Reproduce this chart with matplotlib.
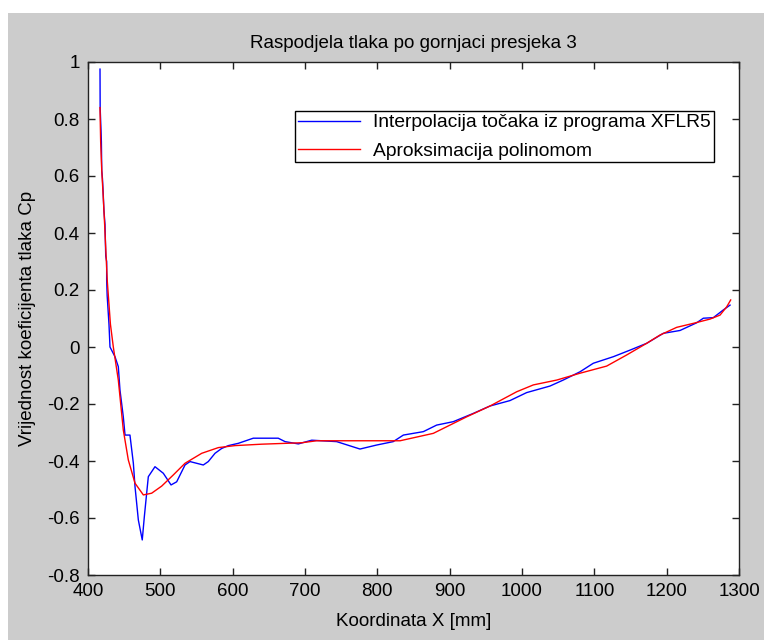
import matplotlib
matplotlib.use("Agg")
import matplotlib.pyplot as plt
from matplotlib.patches import Rectangle

blue_x = [416.6, 416.8, 418.0, 418.5, 419.0, 420.0, 421.0, 422.0, 423.5, 424.5, 425.8, 425.8,
          426.5, 429.0, 430.4, 437.3, 441.9, 444.2, 448.8, 451.2, 458.0, 462.7, 465.0, 469.6,
          475.0, 477.9, 481.1, 483.4, 492.6, 504.1, 514.8, 522.6, 534.1, 541.0, 559.4, 566.3,
          575.6, 584.8, 594.0, 607.8, 628.5, 663.0, 672.4, 690.8, 709.3, 743.8, 776.0, 799.0,
          822.0, 836.0, 863.6, 882.0, 905.0, 932.7, 955.8, 983.4, 1006.4, 1038.7, 1057.0,
          1080.2, 1098.6, 1126.3, 1149.3, 1172.4, 1195.4, 1218.5, 1241.5, 1250.7, 1264.5,
          1278.3, 1287.6]
blue_y = [0.975, 0.84, 0.76, 0.72, 0.62, 0.59, 0.54, 0.48, 0.43, 0.32, 0.30, 0.235,
          0.18, 0.08, 0.00, -0.034, -0.069, -0.151, -0.245, -0.309, -0.309, -0.408, -0.49, -0.607,
          -0.677, -0.595, -0.513, -0.455, -0.42, -0.443, -0.484, -0.473, -0.414, -0.402, -0.414, -0.402,
          -0.373, -0.356, -0.346, -0.338, -0.320, -0.320, -0.332, -0.340, -0.327, -0.332, -0.358, -0.344,
          -0.332, -0.309, -0.297, -0.274, -0.262, -0.233, -0.207, -0.188, -0.160, -0.137, -0.116,
          -0.087, -0.057, -0.034, -0.011, 0.013, 0.048, 0.058, 0.085, 0.101, 0.103,
          0.130, 0.147]

red_x = [416.6, 417.5, 419.0, 421.0, 423.0, 425.0, 426.7, 429.0, 431.0, 435.0, 441.9, 448.8,
         455.7, 465.0, 476.5, 488.0, 501.9, 517.9, 534.1, 557.2, 580.2, 603.2, 640.0, 695.4,
         716.2, 831.4, 877.4, 923.5, 955.8, 992.7, 1015.7, 1048.0, 1080.2, 1117.0, 1144.7,
         1172.4, 1190.8, 1213.9, 1236.9, 1260.0, 1273.8, 1283.0, 1288.5]
red_y = [0.84, 0.72, 0.62, 0.53, 0.43, 0.32, 0.23, 0.15, 0.08, 0.00, -0.116, -0.291,
         -0.396, -0.478, -0.519, -0.513, -0.488, -0.449, -0.408, -0.373, -0.353, -0.346, -0.341, -0.336,
         -0.329, -0.329, -0.303, -0.245, -0.207, -0.157, -0.133, -0.116, -0.092, -0.067, -0.028,
         0.013, 0.042, 0.069, 0.083, 0.098, 0.112, 0.141, 0.165]

x_ticks = [400, 500, 600, 700, 800, 900, 1000, 1100, 1200, 1300]
y_ticks = [-0.8, -0.6, -0.4, -0.2, 0, 0.2, 0.4, 0.6, 0.8, 1]
y_tick_labels = ["-0.8", "-0.6", "-0.4", "-0.2", "0", "0.2", "0.4", "0.6", "0.8", "1"]

title = "Raspodjela tlaka po gornjaci presjeka 3"
xlabel = "Koordinata X [mm]"
ylabel = "Vrijednost koeficijenta tlaka Cp"
legend_labels = ["Interpolacija točaka iz programa XFLR5", "Aproksimacija polinomom"]

plt.rcParams['font.family'] = ['Liberation Sans', 'DejaVu Sans']
FS = 13.5

W, H = 764, 640
fig = plt.figure(figsize=(W / 100, H / 100), dpi=100)
fig.patch.set_facecolor('white')
fig.patches.append(Rectangle((8 / W, 0), 1 - 8 / W, 1 - 13 / H, transform=fig.transFigure,
                             facecolor='#cccccc', edgecolor='none', zorder=-10))

ax = fig.add_axes([88 / W, 1 - 575 / H, (739 - 88) / W, (575 - 62) / H])
ax.set_facecolor('white')
ax.plot(blue_x, blue_y, color='#0000ff', lw=1.0, label=legend_labels[0])
ax.plot(red_x, red_y, color='#ff0000', lw=1.0, label=legend_labels[1])

ax.set_xlim(400, 1300)
ax.set_ylim(-0.8, 1)
ax.set_xticks(x_ticks)
ax.set_xticklabels([str(v) for v in x_ticks], fontsize=FS)
ax.set_yticks(y_ticks)
ax.set_yticklabels(y_tick_labels, fontsize=FS)
ax.tick_params(direction='in', length=5, width=1, top=True, right=True, colors='#222222',
               labelcolor='black')
ax.tick_params(axis='x', pad=6)
ax.tick_params(axis='y', pad=6)
for s in ax.spines.values():
    s.set_color('#222222')
    s.set_linewidth(1)

ax.set_title(title, fontsize=FS, pad=10)
ax.set_xlabel(xlabel, fontsize=FS, labelpad=9)
ax.set_ylabel(ylabel, fontsize=FS, labelpad=8)

leg = ax.legend(loc='upper right', bbox_to_anchor=((714 - 88) / 651, 1 - (111 - 62) / 513),
                borderaxespad=0, fancybox=False, edgecolor='black', framealpha=1,
                prop={'size': 13.9}, handlelength=3.2, handletextpad=0.7, borderpad=0.15,
                labelspacing=0.55)
leg.get_frame().set_linewidth(1)

fig.savefig('out.png', dpi=100, facecolor=fig.get_facecolor())
